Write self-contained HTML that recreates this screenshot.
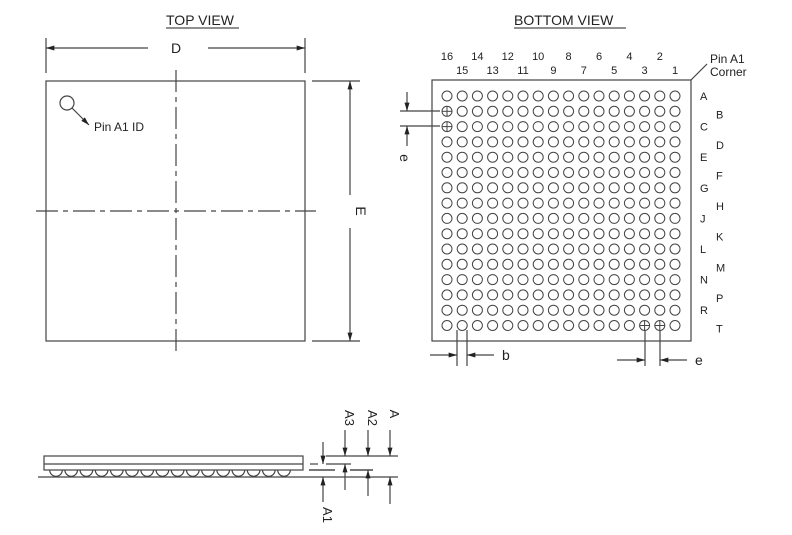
<!DOCTYPE html>
<html><head><meta charset="utf-8"><style>body{margin:0;background:#fff}svg{display:block}text{font-family:"Liberation Sans",sans-serif;fill:#222}</style></head><body>
<svg width="792" height="535" viewBox="0 0 792 535" xmlns="http://www.w3.org/2000/svg">
<defs><marker id="ar" viewBox="0 0 10 6" refX="10" refY="3" markerWidth="10" markerHeight="5" orient="auto" markerUnits="userSpaceOnUse"><path d="M0,0 L10,3 L0,6 z" fill="#222"/></marker></defs>
<g stroke="#444" stroke-width="1.2" fill="none">
<rect x="46" y="81" width="259" height="260"/>
<line x1="176" y1="70" x2="176" y2="352" stroke-dasharray="22,5,5,5"/>
<line x1="36" y1="211" x2="316" y2="211" stroke-dasharray="22,5,5,5"/>
<circle cx="67" cy="103" r="7"/>
<line x1="72" y1="108" x2="89" y2="125" marker-end="url(#ar)"/>
<line x1="46" y1="38" x2="46" y2="73"/><line x1="305" y1="38" x2="305" y2="73"/>
<line x1="148" y1="48" x2="46" y2="48" marker-end="url(#ar)"/>
<line x1="208" y1="48" x2="305" y2="48" marker-end="url(#ar)"/>
<line x1="312" y1="81" x2="360" y2="81"/><line x1="312" y1="341" x2="360" y2="341"/>
<line x1="350" y1="195" x2="350" y2="81" marker-end="url(#ar)"/>
<line x1="350" y1="228" x2="350" y2="341" marker-end="url(#ar)"/>
<rect x="432" y="80" width="259" height="261"/>
<line x1="691" y1="80" x2="707" y2="64"/>
<line x1="400" y1="111" x2="440" y2="111"/><line x1="400" y1="126" x2="440" y2="126"/>
<line x1="407" y1="92" x2="407" y2="111" marker-end="url(#ar)"/>
<line x1="407" y1="146" x2="407" y2="126" marker-end="url(#ar)"/>
<line x1="457" y1="330" x2="457" y2="366"/><line x1="467" y1="330" x2="467" y2="366"/>
<line x1="430" y1="355" x2="457" y2="355" marker-end="url(#ar)"/>
<line x1="494" y1="355" x2="467" y2="355" marker-end="url(#ar)"/>
<line x1="645" y1="330" x2="645" y2="366"/><line x1="660" y1="330" x2="660" y2="366"/>
<line x1="617" y1="360" x2="645" y2="360" marker-end="url(#ar)"/>
<line x1="687" y1="360" x2="660" y2="360" marker-end="url(#ar)"/>
<rect x="44" y="456" width="259" height="14"/>
<line x1="44" y1="464" x2="303" y2="464"/>
<line x1="38" y1="477" x2="300" y2="477"/>
<line x1="326" y1="456" x2="398" y2="456"/>
<line x1="326" y1="464" x2="351" y2="464"/>
<line x1="309" y1="470" x2="335" y2="470" stroke-width="2" stroke="#777"/>
<line x1="350" y1="470" x2="373" y2="470" stroke-width="2" stroke="#777"/>
<line x1="310" y1="464" x2="318" y2="464"/>
<line x1="300" y1="477" x2="398" y2="477"/>
<line x1="323" y1="442" x2="323" y2="464" marker-end="url(#ar)"/>
<line x1="323" y1="502" x2="323" y2="477" marker-end="url(#ar)"/>
<line x1="345" y1="430" x2="345" y2="456" marker-end="url(#ar)"/>
<line x1="345" y1="490" x2="345" y2="464" marker-end="url(#ar)"/>
<line x1="368" y1="430" x2="368" y2="456" marker-end="url(#ar)"/>
<line x1="368" y1="496" x2="368" y2="470" marker-end="url(#ar)"/>
<line x1="390" y1="430" x2="390" y2="456" marker-end="url(#ar)"/>
<line x1="390" y1="504" x2="390" y2="477" marker-end="url(#ar)"/>
<g id="balls"></g>
</g>
<g stroke="#444" stroke-width="1" fill="none" id="grid"></g>
<g font-size="13">
<text x="166" y="25" font-size="14">TOP VIEW</text><line x1="166" y1="28" x2="239" y2="28" stroke="#222"/>
<text x="514" y="25" font-size="14">BOTTOM VIEW</text><line x1="514" y1="28" x2="626" y2="28" stroke="#222"/>
<text x="176" y="53" text-anchor="middle" font-size="14">D</text>
<text x="94" y="131" font-size="12">Pin A1 ID</text>
<text x="356" y="211" font-size="14" text-anchor="middle" transform="rotate(90 356 211)">E</text>
<text x="710" y="63" font-size="12">Pin A1</text><text x="710" y="76" font-size="12">Corner</text>
<text x="400" y="158" font-size="14" text-anchor="middle" transform="rotate(90 400 158)">e</text>
<text x="502" y="360" font-size="14">b</text>
<text x="695" y="365" font-size="14">e</text>
<text x="345" y="418" font-size="13" text-anchor="middle" transform="rotate(90 345 418)">A3</text>
<text x="368" y="418" font-size="13" text-anchor="middle" transform="rotate(90 368 418)">A2</text>
<text x="390" y="414" font-size="13" text-anchor="middle" transform="rotate(90 390 414)">A</text>
<text x="323" y="515" font-size="13" text-anchor="middle" transform="rotate(90 323 515)">A1</text>
<g id="lab" font-size="11"></g>
</g>
<script>
var ns="http://www.w3.org/2000/svg",g=document.getElementById('grid'),lab=document.getElementById('lab'),b=document.getElementById('balls');
function el(p,t,a){var e=document.createElementNS(ns,t);for(var k in a)e.setAttribute(k,a[k]);p.appendChild(e);return e;}
var rows="ABCDEFGHJKLMNPRT";
for(var r=0;r<16;r++)for(var c=0;c<16;c++){var x=447+c*15.2,y=96+r*15.3;el(g,'circle',{cx:x,cy:y,r:5});
 if((c==0&&(r==1||r==2))||(r==15&&(c==13||c==14))){el(g,'line',{x1:x-5,y1:y,x2:x+5,y2:y});el(g,'line',{x1:x,y1:y-5,x2:x,y2:y+5});}}
for(var c=0;c<16;c++){var n=16-c,x=447+c*15.2;var t=el(lab,'text',{x:x,y:(n%2==0)?60:74,'text-anchor':'middle'});t.textContent=n;}
for(var r=0;r<16;r++){var t=el(lab,'text',{x:(r%2==0)?700:716,y:96+r*15.3+(r%2==0?4:7)});t.textContent=rows[r];}
for(var i=0;i<16;i++){var x=56+i*15.2;el(b,'path',{d:'M'+(x-6.3)+',470 A6.3,6.3 0 0,0 '+(x+6.3)+',470'});}
</script>
</svg>
</body></html>
